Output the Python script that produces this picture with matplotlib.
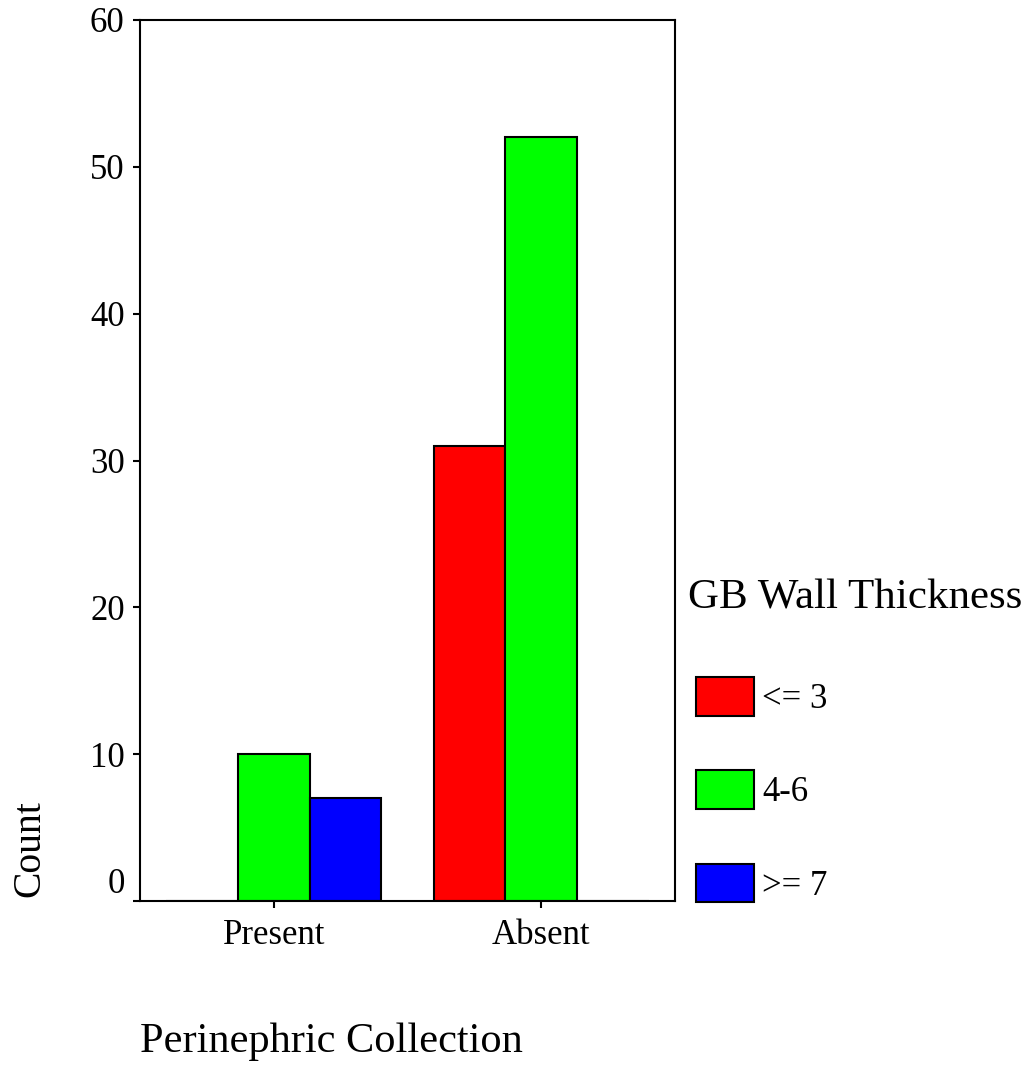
import numpy as np
import matplotlib
matplotlib.use('Agg')
import matplotlib.pyplot as plt

plt.rcParams['font.family'] = ['Liberation Serif', 'DejaVu Serif']

categories = ['Present', 'Absent']
groups = ['<= 3', '4-6', '>= 7']
counts = {
    '<= 3': [0, 31],
    '4-6': [10, 52],
    '>= 7': [7, 0],
}
colors = ['#ff0000', '#00ff00', '#0000ff']
yticks = [0, 10, 20, 30, 40, 50, 60]

fig = plt.figure(figsize=(10.31, 10.66), dpi=100)
ax = fig.add_axes([140/1031, 1 - 901/1066, 535/1031, 881/1066])

x = np.arange(len(categories))
w = 0.268
for i, g in enumerate(groups):
    ax.bar(x + (i - 1) * w, counts[g], width=w, color=colors[i],
           edgecolor='black', linewidth=1.5, label=g)

ax.set_xlim(-0.5, 1.5)
ax.set_ylim(0, 60)
ax.set_yticks(yticks)
ax.set_xticks(x)
ax.set_xticklabels(categories)
ax.tick_params(axis='both', labelsize=25, length=5, width=1.5, direction='out')
ax.tick_params(axis='y', pad=6)
ax.tick_params(axis='x', pad=8)
for s in ax.spines.values():
    s.set_linewidth(1.5)
ax.get_yticklabels()[0].set_va('bottom')

# legend title drawn separately so it can sit a bit left of the boxes
fig.text(688/1031, 1 - 598/1066, 'GB Wall Thickness', fontsize=31,
         ha='left', va='center')
leg = ax.legend(loc='upper left',
                bbox_to_anchor=(696/1031, 1 - 677/1066),
                bbox_transform=fig.transFigure, frameon=False,
                fontsize=25, borderpad=0,
                handlelength=1.67, handleheight=1.33, labelspacing=1.57,
                handletextpad=0.24, borderaxespad=0)

fig.text(30/1031, 1 - 849/1066, 'Count', rotation=90, fontsize=28.5,
         ha='center', va='center')
fig.text(140/1031, 1 - 1042/1066, 'Perinephric Collection', fontsize=30.5,
         ha='left', va='center')

fig.savefig('out.png', dpi=100)
